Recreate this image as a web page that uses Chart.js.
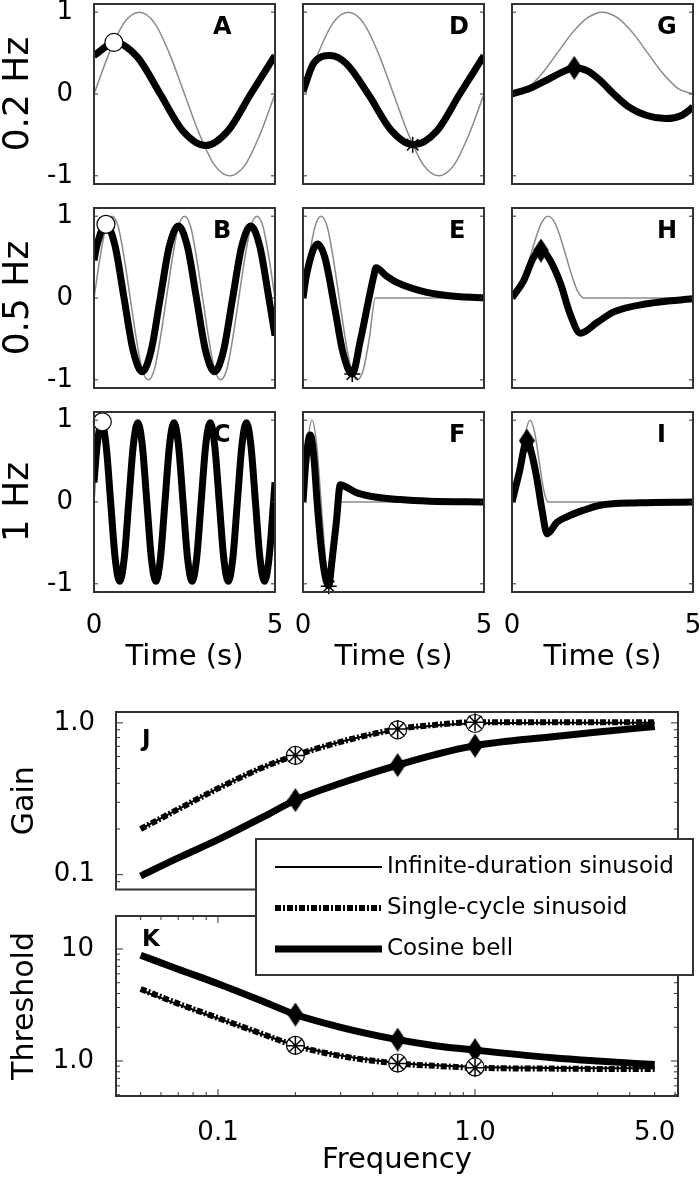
<!DOCTYPE html>
<html>
<head>
<meta charset="utf-8">
<script src="https://cdn.jsdelivr.net/npm/chart.js@4.4.1/dist/chart.umd.min.js"></script>
<style>
  html, body { margin: 0; padding: 0; background: #fff; }
  #page { position: relative; width: 700px; height: 1184px; overflow: hidden; }
  #page canvas { position: absolute; }
</style>
</head>
<body>
<div id="page"></div>
<script>
// stimulus traces (grey)
const t02 = [0, 0.42, 0.83, 1.25, 1.67, 2.08, 2.5, 2.92, 3.33, 3.75, 4.17, 4.58, 5];
const sine02 = [0, 0.5, 0.87, 1, 0.87, 0.5, 0, -0.5, -0.87, -1, -0.87, -0.5, 0];
const bell02 = [0, 0.07, 0.25, 0.5, 0.75, 0.93, 1, 0.93, 0.75, 0.5, 0.25, 0.07, 0];

const t05 = [0, 0.17, 0.33, 0.5, 0.67, 0.83, 1, 1.17, 1.33, 1.5, 1.67, 1.83, 2, 2.17, 2.33, 2.5,
  2.67, 2.83, 3, 3.17, 3.33, 3.5, 3.67, 3.83, 4, 4.17, 4.33, 4.5, 4.67, 4.83, 5];
const sine05 = [0, 0.5, 0.87, 1, 0.87, 0.5, 0, -0.5, -0.87, -1, -0.87, -0.5, 0, 0.5, 0.87, 1,
  0.87, 0.5, 0, -0.5, -0.87, -1, -0.87, -0.5, 0, 0.5, 0.87, 1, 0.87, 0.5, 0];
const tOne05 = [0, 0.17, 0.33, 0.5, 0.67, 0.83, 1, 1.17, 1.33, 1.5, 1.67, 1.83, 2, 5];
const single05 = [0, 0.5, 0.87, 1, 0.87, 0.5, 0, -0.5, -0.87, -1, -0.87, -0.5, 0, 0];
const bell05 = [0, 0.07, 0.25, 0.5, 0.75, 0.93, 1, 0.93, 0.75, 0.5, 0.25, 0.07, 0, 0];

const t1 = [0, 0.125, 0.25, 0.375, 0.5, 0.625, 0.75, 0.875, 1, 1.125, 1.25, 1.375, 1.5, 1.625,
  1.75, 1.875, 2, 2.125, 2.25, 2.375, 2.5, 2.625, 2.75, 2.875, 3, 3.125, 3.25, 3.375, 3.5, 3.625,
  3.75, 3.875, 4, 4.125, 4.25, 4.375, 4.5, 4.625, 4.75, 4.875, 5];
const sine1 = [0, 0.71, 1, 0.71, 0, -0.71, -1, -0.71, 0, 0.71, 1, 0.71, 0, -0.71, -1, -0.71,
  0, 0.71, 1, 0.71, 0, -0.71, -1, -0.71, 0, 0.71, 1, 0.71, 0, -0.71, -1, -0.71,
  0, 0.71, 1, 0.71, 0, -0.71, -1, -0.71, 0];
const tOne1 = [0, 0.125, 0.25, 0.375, 0.5, 0.625, 0.75, 0.875, 1, 5];
const single1 = [0, 0.71, 1, 0.71, 0, -0.71, -1, -0.71, 0, 0];
const bell1 = [0, 0.15, 0.5, 0.85, 1, 0.85, 0.5, 0.15, 0, 0];

// responses (thick black)
const tA = [0, 0.58, 1.2, 1.83, 2.45, 3.08, 3.7, 4.33, 5];
const respA = [0.47, 0.63, 0.45, 0, -0.45, -0.63, -0.45, 0, 0.47];
const tB = [0, 0.08, 0.33, 0.58, 0.83, 1.08, 1.33, 1.58, 1.83, 2.08, 2.33, 2.58, 2.83, 3.08,
  3.33, 3.58, 3.83, 4.08, 4.33, 4.58, 4.83, 5];
const respB = [0.46, 0.64, 0.9, 0.64, 0, -0.64, -0.9, -0.64, 0, 0.63, 0.88, 0.63, 0, -0.64,
  -0.9, -0.64, 0, 0.63, 0.88, 0.63, 0, -0.46];
const tC = [0, 0.085, 0.21, 0.335, 0.46, 0.585, 0.71, 0.835, 0.96, 1.085, 1.21, 1.335, 1.46,
  1.585, 1.71, 1.835, 1.96, 2.085, 2.21, 2.335, 2.46, 2.585, 2.71, 2.835, 2.96, 3.085, 3.21,
  3.335, 3.46, 3.585, 3.71, 3.835, 3.96, 4.085, 4.21, 4.335, 4.46, 4.585, 4.71, 4.835, 4.96, 5];
const respC = [0.24, 0.69, 0.97, 0.69, 0, -0.69, -0.97, -0.69, 0, 0.69, 0.97, 0.69, 0, -0.69,
  -0.97, -0.69, 0, 0.69, 0.97, 0.69, 0, -0.69, -0.97, -0.69, 0, 0.69, 0.97, 0.69, 0, -0.69,
  -0.97, -0.69, 0, 0.69, 0.97, 0.69, 0, -0.69, -0.97, -0.69, 0, 0.24];
const tD = [0, 0.3, 0.75, 1.2, 1.8, 2.45, 3.05, 3.7, 4.33, 5];
const respD = [0.03, 0.38, 0.47, 0.37, 0, -0.45, -0.62, -0.45, 0, 0.47];
const tE = [0, 0.1, 0.4, 0.6, 0.88, 1.1, 1.36, 1.58, 1.81, 1.95, 2.02, 2.3, 2.59, 3.23, 3.97, 5];
const respE = [0, 0.29, 0.66, 0.5, -0.13, -0.66, -0.93, -0.53, -0.03, 0.26, 0.37, 0.27, 0.19, 0.09, 0.03, 0];
const tF = [0, 0.08, 0.2, 0.3, 0.39, 0.5, 0.6, 0.71, 0.8, 0.92, 1.03, 1.2, 1.45, 1.86, 2.68, 3.5, 5];
const respF = [0, 0.5, 0.82, 0.55, 0, -0.55, -0.88, -1.02, -0.72, -0.25, 0.21, 0.18, 0.12, 0.07, 0.03, 0.01, 0];
const tG = [0, 0.5, 1.0, 1.4, 1.72, 2.1, 2.45, 2.81, 3.2, 3.7, 4.24, 4.7, 5];
const respG = [0, 0.07, 0.18, 0.27, 0.32, 0.28, 0.16, 0, -0.15, -0.26, -0.3, -0.26, -0.16];
const tH = [0, 0.32, 0.6, 0.8, 1.0, 1.33, 1.61, 1.89, 2.35, 2.81, 3.73, 5];
const respH = [0, 0.21, 0.5, 0.58, 0.5, 0.19, -0.2, -0.43, -0.3, -0.17, -0.07, -0.01];
const tI = [0, 0.2, 0.41, 0.55, 0.69, 0.83, 0.97, 1.24, 1.52, 1.98, 2.44, 3.5, 5];
const respI = [0, 0.36, 0.75, 0.58, 0.28, -0.1, -0.39, -0.25, -0.18, -0.1, -0.04, -0.01, 0];

// marker positions [time, value]
const markA = [0.55, 0.63], markB = [0.33, 0.9], markC = [0.23, 0.98];
const markD = [3.03, -0.62], markE = [1.36, -0.93], markF = [0.71, -1.03];
const markG = [1.72, 0.32], markH = [0.8, 0.58], markI = [0.41, 0.75];

const rowLabels = ['0.2 Hz', '0.5 Hz', '1 Hz'];
const timeTicks = [0, 5];
const ampTicks = [-1, 0, 1];

// frequency panels J and K
const freq = [0.05, 0.07, 0.1, 0.15, 0.2, 0.3, 0.5, 0.7, 1, 2, 3, 5];
const gainSinusoid = [0.2, 0.27, 0.37, 0.51, 0.61, 0.75, 0.9, 0.96, 0.99, 1.0, 1.0, 1.0];
const gainSingle = [0.2, 0.27, 0.37, 0.51, 0.61, 0.75, 0.91, 0.97, 1.01, 1.01, 1.01, 1.01];
const gainCosine = [0.098, 0.129, 0.17, 0.24, 0.31, 0.4, 0.527, 0.618, 0.708, 0.81, 0.87, 0.945];
const thrSinusoid = [4.3, 3.2, 2.4, 1.72, 1.38, 1.12, 0.96, 0.915, 0.885, 0.867, 0.86, 0.86];
const thrSingle = [4.4, 3.25, 2.42, 1.73, 1.37, 1.11, 0.95, 0.905, 0.87, 0.855, 0.85, 0.85];
const thrCosine = [8.8, 6.6, 4.9, 3.4, 2.6, 2.0, 1.55, 1.37, 1.25, 1.07, 1.0, 0.93];
const markerFreqs = [0.2, 0.5, 1];
const seriesNames = ['Infinite-duration sinusoid', 'Single-cycle sinusoid', 'Cosine bell'];
const freqTicks = [0.1, 1, 5];
const gainTicks = [0.1, 1];
const thrTicks = [1, 10];

Chart.defaults.font.family = "'DejaVu Sans', sans-serif";
Chart.defaults.color = '#000';
Chart.defaults.animation = false;
Chart.defaults.plugins.legend.display = false;
Chart.defaults.plugins.tooltip.enabled = false;

const page = document.getElementById('page');
const FRAME = '#333';

function addCanvas(left, top, w, h) {
  const c = document.createElement('canvas');
  c.width = w; c.height = h;
  c.style.left = left + 'px'; c.style.top = top + 'px';
  c.style.width = w + 'px'; c.style.height = h + 'px';
  page.appendChild(c);
  return c;
}
const pts = (xs, ys) => xs.map((x, i) => ({x: x, y: ys[i]}));

function tallDiamond(w, h) {
  const c = document.createElement('canvas');
  c.width = w; c.height = h;
  const g = c.getContext('2d');
  g.fillStyle = '#000';
  g.beginPath();
  g.moveTo(w / 2, 0); g.lineTo(w, h / 2); g.lineTo(w / 2, h); g.lineTo(0, h / 2);
  g.closePath(); g.fill();
  return c;
}
const diamond = tallDiamond(16, 24);

// frame, inward tick marks and panel letter
const panelDecor = {
  id: 'panelDecor',
  afterDatasetsDraw(chart, args, o) {
    if (!o.on) return;
    const {ctx, chartArea: a, scales} = chart;
    ctx.save();
    ctx.strokeStyle = FRAME;
    ctx.lineWidth = 1;
    (o.ticks || []).forEach(tk => {
      const sc = scales[tk.axis];
      tk.values.forEach(v => {
        const p = sc.getPixelForValue(v);
        tk.sides.forEach(side => {
          ctx.beginPath();
          if (side === 'left') { ctx.moveTo(a.left, p); ctx.lineTo(a.left + tk.len, p); }
          if (side === 'right') { ctx.moveTo(a.right, p); ctx.lineTo(a.right - tk.len, p); }
          if (side === 'bottom') { ctx.moveTo(p, a.bottom); ctx.lineTo(p, a.bottom - tk.len); }
          if (side === 'top') { ctx.moveTo(p, a.top); ctx.lineTo(p, a.top + tk.len); }
          ctx.stroke();
        });
      });
    });
    ctx.lineWidth = 2;
    ctx.strokeRect(a.left, a.top, a.width, a.height);
    if (o.letter) {
      ctx.fillStyle = '#000';
      ctx.font = "bold " + (o.letterSize || 24) + "px 'DejaVu Sans'";
      ctx.textAlign = 'left';
      ctx.textBaseline = 'middle';
      ctx.fillText(o.letter, a.left + o.dx, a.top + o.dy);
    }
    ctx.restore();
  }
};

// legend box spanning panels J and K
const legendBox = {
  id: 'legendBox',
  afterDraw(chart, args, o) {
    if (!o.on) return;
    const ctx = chart.ctx;
    ctx.save();
    ctx.fillStyle = '#fff';
    ctx.fillRect(o.x, o.y, o.w, o.h);
    ctx.strokeStyle = FRAME;
    ctx.lineWidth = 2;
    ctx.strokeRect(o.x, o.y, o.w, o.h);
    const items = chart.data.datasets.filter(d => d.legendSlot !== undefined)
      .sort((p, q) => p.legendSlot - q.legendSlot);
    items.forEach((d, i) => {
      const y = o.y + o.first + i * o.step;
      ctx.strokeStyle = d.borderColor;
      ctx.lineWidth = d.borderWidth;
      ctx.setLineDash(d.borderDash || []);
      ctx.beginPath();
      ctx.moveTo(o.x + 19, y); ctx.lineTo(o.x + 126, y);
      ctx.stroke();
      ctx.setLineDash([]);
      ctx.fillStyle = '#000';
      ctx.font = "23px 'DejaVu Sans'";
      ctx.textBaseline = 'middle';
      ctx.fillText(d.label, o.x + 131, y);
    });
    ctx.restore();
  }
};
Chart.register(panelDecor, legendBox);

// ---- 3 x 3 time panels ----
const COLX = [94, 303, 512], ROWY = [4, 208, 412], PW = 181, PH = 180;
const letterDx = [119, 146, 145];

const panels = [
  {letter: 'A', col: 0, row: 0, tS: t02, s: sine02, tR: tA, r: respA, m: markA, kind: 'circle'},
  {letter: 'B', col: 0, row: 1, tS: t05, s: sine05, tR: tB, r: respB, m: markB, kind: 'circle'},
  {letter: 'C', col: 0, row: 2, tS: t1, s: sine1, tR: tC, r: respC, m: markC, kind: 'circle'},
  {letter: 'D', col: 1, row: 0, tS: t02, s: sine02, tR: tD, r: respD, m: markD, kind: 'star'},
  {letter: 'E', col: 1, row: 1, tS: tOne05, s: single05, tR: tE, r: respE, m: markE, kind: 'star'},
  {letter: 'F', col: 1, row: 2, tS: tOne1, s: single1, tR: tF, r: respF, m: markF, kind: 'star'},
  {letter: 'G', col: 2, row: 0, tS: t02, s: bell02, tR: tG, r: respG, m: markG, kind: 'diamond'},
  {letter: 'H', col: 2, row: 1, tS: tOne05, s: bell05, tR: tH, r: respH, m: markH, kind: 'diamond'},
  {letter: 'I', col: 2, row: 2, tS: tOne1, s: bell1, tR: tI, r: respI, m: markI, kind: 'diamond'}
];

function markerStyle(kind) {
  if (kind === 'circle') return {pointStyle: 'circle', pointRadius: 9, pointBackgroundColor: '#fff', pointBorderColor: '#000', pointBorderWidth: 1.2};
  if (kind === 'star') return {pointStyle: 'star', pointRadius: 8, pointBorderColor: '#000', pointBorderWidth: 1.5};
  return {pointStyle: diamond, pointRadius: 8};
}

panels.forEach(p => {
  const showX = p.row === 2, showY = p.col === 0;
  const padL = showY ? 94 : 16, padR = 16, padT = 16;
  const padB = showX ? 92 : 16;
  const cv = addCanvas(COLX[p.col] - padL, ROWY[p.row] - padT, PW + padL + padR, PH + padT + padB);
  new Chart(cv, {
    type: 'line',
    data: {
      datasets: [
        Object.assign({data: [{x: p.m[0], y: p.m[1]}], showLine: false, clip: false}, markerStyle(p.kind)),
        {data: pts(p.tR, p.r), borderColor: '#000', borderWidth: 7, pointRadius: 0,
          cubicInterpolationMode: 'monotone', borderJoinStyle: 'round', clip: 0},
        {data: pts(p.tS, p.s), borderColor: '#8a8a8a', borderWidth: 1.5, pointRadius: 0,
          cubicInterpolationMode: 'monotone', clip: 0}
      ]
    },
    options: {
      responsive: false,
      layout: {padding: {left: showY ? 0 : padL, right: padR, top: padT, bottom: showX ? 0 : padB}},
      scales: {
        x: {
          type: 'linear', min: 0, max: 5, display: showX,
          afterBuildTicks: s => { s.ticks = timeTicks.map(v => ({value: v})); },
          afterFit: s => { if (showX) s.height = 92; s.paddingLeft = 0; s.paddingRight = 0; },
          grid: {display: false}, border: {display: false},
          ticks: {font: {size: 26}, padding: 11, maxRotation: 0, autoSkip: false},
          title: {display: true, text: 'Time (s)', font: {size: 29}, padding: {top: 0, bottom: 9}}
        },
        y: {
          min: -1.1, max: 1.1, display: showY,
          afterBuildTicks: s => { s.ticks = ampTicks.map(v => ({value: v})); },
          afterFit: s => { if (showY) s.width = 94; s.paddingTop = 0; s.paddingBottom = 0; },
          grid: {display: false}, border: {display: false},
          ticks: {font: {size: 26}, padding: 13, autoSkip: false},
          title: {display: true, text: rowLabels[p.row], font: {size: 36, lineHeight: 1}, padding: {top: 1, bottom: 0}}
        }
      },
      plugins: {
        panelDecor: {
          on: true, letter: p.letter, dx: letterDx[p.col], dy: 24,
          ticks: [{axis: 'y', values: ampTicks, len: 4, sides: ['left', 'right']}]
        }
      }
    }
  });
});

// ---- frequency panels ----
const at = (ys) => markerFreqs.map(f => ({x: f, y: ys[freq.indexOf(f)]}));
function freqDatasets(sin, single, cos, withLegend) {
  const line = {pointRadius: 0, cubicInterpolationMode: 'monotone', borderColor: '#000', clip: 0};
  const sets = [
    Object.assign({data: at(single), showLine: false, clip: false}, markerStyle('star'), {pointRadius: 9}),
    Object.assign({data: at(sin), showLine: false, clip: false}, markerStyle('circle')),
    Object.assign({data: at(cos), showLine: false, clip: false}, markerStyle('diamond')),
    Object.assign({label: seriesNames[0], data: pts(freq, sin), borderWidth: 2}, line),
    Object.assign({label: seriesNames[1], data: pts(freq, single), borderWidth: 6, borderDash: [6, 2, 2, 2]}, line),
    Object.assign({label: seriesNames[2], data: pts(freq, cos), borderWidth: 7}, line)
  ];
  if (withLegend) { sets[3].legendSlot = 0; sets[4].legendSlot = 1; sets[5].legendSlot = 2; }
  return sets;
}
const minorFreq = [0.05, 0.06, 0.07, 0.08, 0.09, 0.2, 0.3, 0.4, 0.5, 0.6, 0.7, 0.8, 0.9, 2, 3, 4, 5, 6];

// J: gain
new Chart(addCanvas(0, 700, 700, 200), {
  type: 'line',
  data: {datasets: freqDatasets(gainSinusoid, gainSingle, gainCosine, false)},
  options: {
    responsive: false,
    layout: {padding: {left: 0, right: 22, top: 12, bottom: 8}},
    scales: {
      x: {type: 'logarithmic', min: 0.0401, max: 6.16, display: false},
      y: {
        type: 'logarithmic', min: 0.0799, max: 1.179,
        afterBuildTicks: s => { s.ticks = gainTicks.map(v => ({value: v})); },
        afterFit: s => { s.width = 116; s.paddingTop = 0; s.paddingBottom = 0; },
        grid: {display: false}, border: {display: false},
        ticks: {font: {size: 26}, padding: 13, autoSkip: false, callback: v => Number(v).toFixed(1)},
        title: {display: true, text: 'Gain', font: {size: 30}, padding: {top: 7, bottom: 0}}
      }
    },
    plugins: {
      panelDecor: {
        on: true, letter: 'J', dx: 26, dy: 28, letterSize: 23,
        ticks: [
          {axis: 'y', values: gainTicks, len: 7, sides: ['left', 'right']},
          {axis: 'y', values: [0.09, 0.2, 0.3, 0.4, 0.5, 0.6, 0.7, 0.8, 0.9], len: 4, sides: ['left', 'right']}
        ]
      }
    }
  }
});

// K: threshold (carries the shared legend)
new Chart(addCanvas(0, 830, 700, 354), {
  type: 'line',
  data: {datasets: freqDatasets(thrSinusoid, thrSingle, thrCosine, true)},
  options: {
    responsive: false,
    layout: {padding: {left: 0, right: 22, top: 86, bottom: 0}},
    scales: {
      x: {
        type: 'logarithmic', min: 0.0401, max: 6.16,
        afterBuildTicks: s => { s.ticks = freqTicks.map(v => ({value: v})); },
        afterFit: s => { s.height = 88; s.paddingLeft = 0; s.paddingRight = 0; },
        grid: {display: false}, border: {display: false},
        ticks: {font: {size: 26}, padding: 14, maxRotation: 0, autoSkip: false, callback: v => Number(v).toFixed(1)},
        title: {display: true, text: 'Frequency', font: {size: 29}, padding: {top: 0, bottom: 6}}
      },
      y: {
        type: 'logarithmic', min: 0.487, max: 19.7,
        afterBuildTicks: s => { s.ticks = thrTicks.map(v => ({value: v})); },
        afterFit: s => { s.width = 116; s.paddingTop = 0; s.paddingBottom = 0; },
        grid: {display: false}, border: {display: false},
        ticks: {font: {size: 26}, padding: 14, autoSkip: false, callback: v => (v >= 10 ? String(v) : Number(v).toFixed(1))},
        title: {display: true, text: 'Threshold', font: {size: 30}, padding: {top: 7, bottom: 0}}
      }
    },
    plugins: {
      panelDecor: {
        on: true, letter: 'K', dx: 26, dy: 24, letterSize: 23,
        ticks: [
          {axis: 'y', values: thrTicks, len: 7, sides: ['left', 'right']},
          {axis: 'y', values: [0.5, 0.6, 0.7, 0.8, 0.9, 2, 3, 4, 5, 6, 7, 8, 9], len: 4, sides: ['left', 'right']},
          {axis: 'x', values: [0.1, 1], len: 7, sides: ['bottom', 'top']},
          {axis: 'x', values: minorFreq, len: 4, sides: ['bottom', 'top']}
        ]
      },
      legendBox: {on: true, x: 256, y: 9, w: 437, h: 136, first: 28, step: 41}
    }
  }
});
</script>
</body>
</html>
